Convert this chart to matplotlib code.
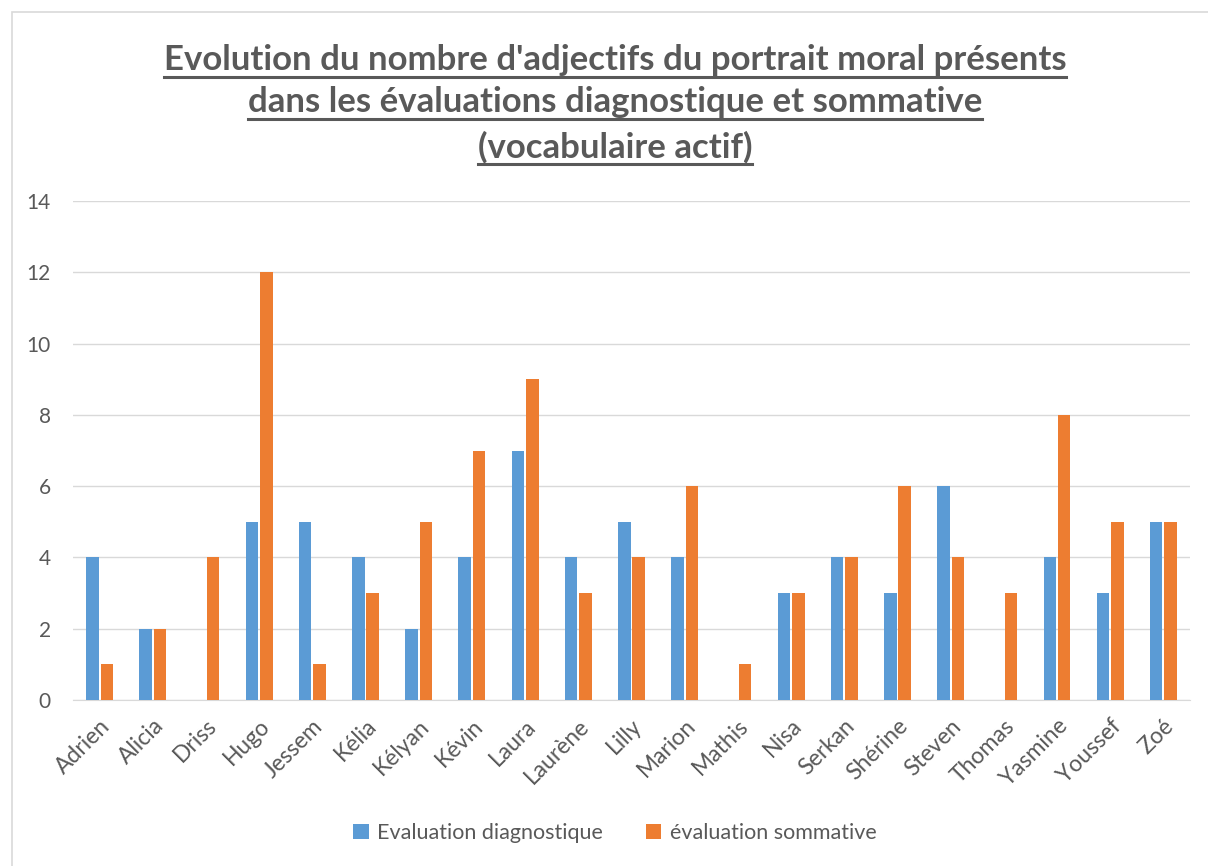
import numpy as np
import matplotlib.pyplot as plt
from matplotlib.patches import Rectangle
from matplotlib.lines import Line2D

names = ["Adrien", "Alicia", "Driss", "Hugo", "Jessem", "Kélia", "Kélyan", "Kévin",
         "Laura", "Laurène", "Lilly", "Marion", "Mathis", "Nisa", "Serkan", "Shérine",
         "Steven", "Thomas", "Yasmine", "Youssef", "Zoé"]
diagnostique = [4, 2, 0, 5, 5, 4, 2, 4, 7, 4, 5, 4, 0, 3, 4, 3, 6, 0, 4, 3, 5]
sommative = [1, 2, 4, 12, 1, 3, 5, 7, 9, 3, 4, 6, 1, 3, 4, 6, 4, 3, 8, 5, 5]
yticks = [0, 2, 4, 6, 8, 10, 12, 14]

W, H = 1208, 866
grey = "#595959"
plt.rcParams["font.family"] = ["Lato", "DejaVu Sans"]

fig = plt.figure(figsize=(W / 100, H / 100), dpi=100)
ax = fig.add_axes([73 / W, 1 - 700 / H, (1190 - 73) / W, (700 - 201) / H])

x = np.arange(len(names))
bw = 0.235
ax.bar(x - 0.135, diagnostique, bw, color="#5B9BD5", label="Evaluation diagnostique", zorder=3)
ax.bar(x + 0.135, sommative, bw, color="#ED7D31", label="évaluation sommative", zorder=3)

ax.set_xlim(-0.5, len(names) - 0.5)
ax.set_ylim(0, 14)
ax.set_yticks(yticks)
ax.set_xticks(x)
ax.set_xticklabels(names, rotation=45, ha="right", rotation_mode="anchor")
ax.tick_params(axis="both", length=0, colors=grey)
ax.tick_params(axis="y", pad=16, labelsize=15)
ax.tick_params(axis="x", pad=11, labelsize=16.5)
ax.grid(axis="y", color="#D9D9D9", linewidth=1, zorder=0)
for s in ["top", "right", "left"]:
    ax.spines[s].set_visible(False)
ax.spines["bottom"].set_color("#D9D9D9")

# outer chart border
fig.patches.append(Rectangle((12 / W, -0.01), 1.0, 1 - 12 / H + 0.01, transform=fig.transFigure,
                             fill=False, edgecolor="#D9D9D9", linewidth=1.2))

title_lines = ["Evolution du nombre d'adjectifs du portrait moral présents",
               "dans les évaluations diagnostique et sommative",
               "(vocabulaire actif)"]
title_y = [60, 102, 147]
fig.canvas.draw()
renderer = fig.canvas.get_renderer()
for line, yy in zip(title_lines, title_y):
    t = fig.text(615 / W, 1 - yy / H, line, ha="center", va="center", fontsize=25,
                 fontweight="bold", color=grey)
    bb = t.get_window_extent(renderer)
    uy = (bb.y0 - 1) / H
    fig.lines.append(Line2D([bb.x0 / W, bb.x1 / W], [uy, uy], transform=fig.transFigure,
                            color=grey, linewidth=2.2))

fig.legend(loc="center", bbox_to_anchor=(615 / W, 1 - 833 / H), ncol=2, frameon=False,
           fontsize=15.5, labelcolor=grey, handlelength=0.7, handleheight=0.7,
           handletextpad=0.4, columnspacing=2)

fig.savefig("out.png", dpi=100)
